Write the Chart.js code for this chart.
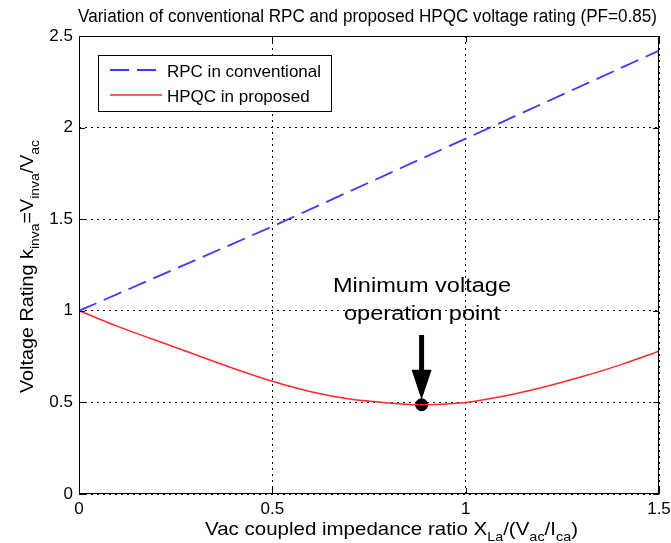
<!DOCTYPE html>
<html>
<head>
<meta charset="utf-8">
<script src="https://cdn.jsdelivr.net/npm/chart.js@4/dist/chart.umd.min.js"></script>
<style>
html,body{margin:0;padding:0;background:#fff;}
#wrap{width:671px;height:543px;position:relative;}
</style>
</head>
<body>
<div id="wrap"><canvas id="c" width="671" height="543"></canvas></div>
<script>
// ---- data ----
const titleText = 'Variation of conventional RPC and proposed HPQC voltage rating (PF=0.85)';
const seriesNames = ['RPC in conventional', 'HPQC in proposed'];
const rpcX = [0, 0.25, 0.5, 0.75, 1.0, 1.25, 1.5];
const rpcY = [1.0, 1.23, 1.46, 1.70, 1.94, 2.18, 2.42];
const hpqcX = [0, 0.1, 0.25, 0.4, 0.5, 0.6, 0.7, 0.8, 0.886, 1.0, 1.1, 1.2, 1.3, 1.4, 1.5];
const hpqcY = [1.0, 0.915, 0.80, 0.685, 0.615, 0.558, 0.518, 0.497, 0.487, 0.50, 0.535, 0.583, 0.64, 0.705, 0.78];
const minPoint = {x: 0.886, y: 0.487};
const annotationLines = ['Minimum voltage', 'operation point'];
const xTicks = [0, 0.5, 1, 1.5];
const yTicks = [0, 0.5, 1, 1.5, 2, 2.5];
const xRange = [0, 1.5];
const yRange = [0, 2.5];
// x label and y label pieces: [text, isSubscript]
const xLabelParts = [['Vac coupled impedance ratio X', false], ['La', true], ['/(V', false], ['ac', true], ['/I', false], ['ca', true], [')', false]];
const yLabelParts = [['Voltage Rating k', false], ['inva', true], ['=V', false], ['inva', true], ['/V', false], ['ac', true]];

const FONT = '"Liberation Sans", Arial, sans-serif';

function measureParts(ctx, parts, size, subSize) {
  let w = 0;
  parts.forEach(p => { ctx.font = (p[1] ? subSize : size) + 'px ' + FONT; w += ctx.measureText(p[0]).width; });
  return w;
}
function renderParts(ctx, parts, size, subSize, x0, y0) {
  let x = x0;
  parts.forEach(p => {
    ctx.font = (p[1] ? subSize : size) + 'px ' + FONT;
    ctx.fillText(p[0], x, y0 + (p[1] ? size * 0.3 : 0));
    x += ctx.measureText(p[0]).width;
  });
}
function fitParts(ctx, parts, size, subSize, x, y, targetW) {
  const w = measureParts(ctx, parts, size, subSize);
  ctx.save();
  ctx.translate(x, y);
  ctx.scale(targetW / w, 1);
  renderParts(ctx, parts, size, subSize, 0, 0);
  ctx.restore();
}
function fitText(ctx, text, cx, y, size, targetW) {
  ctx.font = size + 'px ' + FONT;
  const w = ctx.measureText(text).width;
  ctx.save();
  ctx.translate(cx, y);
  ctx.scale(targetW / w, 1);
  ctx.textAlign = 'center';
  ctx.fillText(text, 0, 0);
  ctx.restore();
}

const decor = {
  id: 'decor',
  afterDraw(chart) {
    const ctx = chart.ctx;
    const a = chart.chartArea;
    const xs = chart.scales.x, ys = chart.scales.y;
    ctx.save();
    ctx.fillStyle = '#000';
    ctx.textBaseline = 'alphabetic';
    // title
    fitText(ctx, titleText, 367.5, 22, 18, 579);
    ctx.textAlign = 'left';
    // frame
    ctx.strokeStyle = '#000';
    ctx.lineWidth = 1;
    ctx.setLineDash([]);
    ctx.strokeRect(a.left + 0.5, a.top + 0.5, a.right - a.left - 1, a.bottom - a.top - 1);
    // inward ticks
    ctx.beginPath();
    xTicks.forEach(t => {
      const px = Math.round(xs.getPixelForValue(t)) + 0.5;
      ctx.moveTo(px, a.bottom); ctx.lineTo(px, a.bottom - 6);
      ctx.moveTo(px, a.top); ctx.lineTo(px, a.top + 6);
    });
    yTicks.forEach(t => {
      const py = Math.round(ys.getPixelForValue(t)) + 0.5;
      ctx.moveTo(a.left, py); ctx.lineTo(a.left + 6, py);
      ctx.moveTo(a.right, py); ctx.lineTo(a.right - 6, py);
    });
    ctx.stroke();
    // x label
    ctx.fillStyle = '#000';
    fitParts(ctx, xLabelParts, 18.5, 13, 205, 535, 373);
    // y label rotated
    ctx.save();
    ctx.translate(33, 393);
    ctx.rotate(-Math.PI / 2);
    fitParts(ctx, yLabelParts, 18.5, 13, 0, 0, 253);
    ctx.restore();
    // legend
    const lx = 98, ly = 55, lw = 233, lh = 56;
    ctx.fillStyle = '#fff';
    ctx.fillRect(lx, ly, lw, lh);
    ctx.strokeStyle = '#000';
    ctx.lineWidth = 1;
    ctx.strokeRect(lx + 0.5, ly + 0.5, lw, lh);
    chart.data.datasets.slice(0, 2).forEach((ds, i) => {
      const yy = ly + 15 + i * 25;
      ctx.strokeStyle = ds.borderColor;
      ctx.lineWidth = ds.borderWidth;
      ctx.setLineDash(ds.borderDash || []);
      ctx.beginPath(); ctx.moveTo(lx + 12, yy); ctx.lineTo(lx + 64, yy); ctx.stroke();
      ctx.setLineDash([]);
      ctx.fillStyle = '#000';
      ctx.font = '17px ' + FONT;
      ctx.fillText(ds.label, lx + 69, yy + 7);
    });
    // annotation
    const mx = xs.getPixelForValue(minPoint.x), my = ys.getPixelForValue(minPoint.y);
    ctx.fillStyle = '#000';
    fitText(ctx, annotationLines[0], 422, 292, 20, 178);
    fitText(ctx, annotationLines[1], 422, 320, 20, 156);
    // arrow
    ctx.strokeStyle = '#000';
    ctx.lineWidth = 5;
    ctx.beginPath(); ctx.moveTo(mx, 335); ctx.lineTo(mx, my - 30); ctx.stroke();
    ctx.beginPath();
    ctx.moveTo(mx - 10, my - 35); ctx.lineTo(mx + 10, my - 35); ctx.lineTo(mx, my - 5); ctx.closePath();
    ctx.fill();
    ctx.restore();
  }
};

new Chart(document.getElementById('c'), {
  type: 'scatter',
  plugins: [decor],
  data: {
    datasets: [
      {
        label: seriesNames[0],
        data: rpcX.map((x, i) => ({x, y: rpcY[i]})),
        showLine: true, borderColor: '#3b3bff', borderWidth: 1.8, borderDash: [19, 8],
        pointRadius: 0, tension: 0, fill: false
      },
      {
        label: seriesNames[1],
        data: hpqcX.map((x, i) => ({x, y: hpqcY[i]})),
        showLine: true, borderColor: '#ff2a2a', borderWidth: 1.5,
        pointRadius: 0, cubicInterpolationMode: 'monotone', fill: false
      },
      {
        label: 'min',
        data: [minPoint],
        showLine: false, pointRadius: 6, pointBackgroundColor: '#000', pointBorderColor: '#000'
      }
    ]
  },
  options: {
    responsive: false,
    animation: false,
    devicePixelRatio: 1,
    layout: {padding: {top: 36, right: 12, left: 0, bottom: 0}},
    plugins: {legend: {display: false}, tooltip: {enabled: false}, title: {display: false}},
    scales: {
      x: {
        type: 'linear', min: xRange[0], max: xRange[1],
        afterBuildTicks: s => { s.ticks = xTicks.map(v => ({value: v})); },
        afterFit: s => { s.height = 49; s.paddingLeft = 0; s.paddingRight = 0; },
        ticks: {color: '#000', font: {family: FONT, size: 17}, padding: 5, callback: v => String(v)},
        grid: {color: '#000', lineWidth: 1, drawTicks: false},
        border: {display: false, dash: [2, 4]}
      },
      y: {
        type: 'linear', min: yRange[0], max: yRange[1],
        afterBuildTicks: s => { s.ticks = yTicks.map(v => ({value: v})); },
        afterFit: s => { s.width = 79; s.paddingTop = 0; s.paddingBottom = 0; },
        ticks: {color: '#000', font: {family: FONT, size: 17}, padding: 6, callback: v => String(v)},
        grid: {color: '#000', lineWidth: 1, drawTicks: false},
        border: {display: false, dash: [2, 4]}
      }
    }
  }
});
</script>
</body>
</html>
